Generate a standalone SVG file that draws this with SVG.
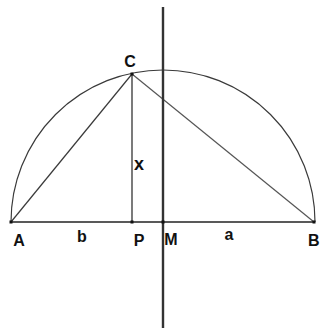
<svg xmlns="http://www.w3.org/2000/svg" width="320" height="329" viewBox="0 0 320 329">
<style>
.ln{stroke:#3a3a3a;stroke-width:1.2;fill:none}
.lbl{font-family:"Liberation Sans",Arial,sans-serif;font-weight:bold;font-size:16px;fill:#111}
.pt{fill:#111}
</style>
<rect width="320" height="329" fill="#fff"/>
<g id="connectors">
<path class="ln" d="M11,222 A152,152 0 0 1 315,222" stroke="#555"/>
<line class="ln" x1="11" y1="222" x2="132" y2="74"/>
<line class="ln" x1="132" y1="74" x2="314" y2="222" style="stroke:#555"/>
<line class="ln" x1="132" y1="74" x2="132" y2="222" style="stroke:#222"/>
<line class="ln" x1="11" y1="222" x2="314" y2="222" style="stroke-width:1.6;stroke:#222"/>
<line class="ln" x1="163" y1="7" x2="163" y2="328" style="stroke-width:2.4;stroke:#333"/>
</g>
<g id="A"><rect class="pt" x="9.5" y="220.5" width="3" height="3"/><text class="lbl" x="19" y="246" text-anchor="middle">A</text></g>
<g id="P"><rect class="pt" x="130.5" y="220.5" width="3" height="3"/><text class="lbl" x="139" y="246" text-anchor="middle">P</text></g>
<g id="M"><rect class="pt" x="161.5" y="220.5" width="3" height="3"/><text class="lbl" x="171" y="245" text-anchor="middle">M</text></g>
<g id="B"><rect class="pt" x="312.5" y="220.5" width="3" height="3"/><text class="lbl" x="319.5" y="246" text-anchor="end">B</text></g>
<g id="C"><rect class="pt" x="130.5" y="72.5" width="3" height="3"/><text class="lbl" x="130" y="67" text-anchor="middle">C</text></g>
<g id="labels">
<text class="lbl" x="82" y="242" text-anchor="middle">b</text>
<text class="lbl" x="229" y="240" text-anchor="middle">a</text>
<text class="lbl" x="139" y="170" text-anchor="middle" style="font-size:18px">x</text>
</g>
</svg>
